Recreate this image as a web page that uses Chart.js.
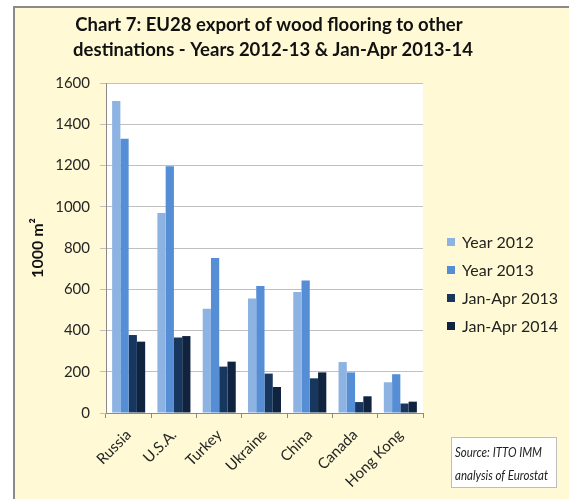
<!DOCTYPE html>
<html>
<head>
<meta charset="utf-8">
<script src="https://cdn.jsdelivr.net/npm/chart.js@4.4.1/dist/chart.umd.min.js"></script>
<style>
html,body{margin:0;padding:0;background:#fff;}
#wrap{width:569px;height:499px;position:relative;}
</style>
</head>
<body>
<div id="wrap"><canvas id="c" width="569" height="499"></canvas></div>
<script>
const titleLines = ["Chart 7: EU28 export of wood flooring to other", "destinations - Years 2012-13 & Jan-Apr 2013-14"];
const categories = ["Russia", "U.S.A.", "Turkey", "Ukraine", "China", "Canada", "Hong Kong"];
const seriesNames = ["Year 2012", "Year 2013", "Jan-Apr 2013", "Jan-Apr 2014"];
const year2012 = [1513, 970, 506, 555, 587, 247, 149];
const year2013 = [1330, 1196, 752, 616, 642, 197, 188];
const janApr2013 = [378, 366, 225, 191, 168, 53, 46];
const janApr2014 = [346, 373, 249, 126, 197, 81, 55];
const yTicks = [0, 200, 400, 600, 800, 1000, 1200, 1400, 1600];
const yTitle = "1000 m\u00B2";
const sourceLines = ["Source: ITTO IMM", "analysis of Eurostat"];

const colors = ["#8DB3E2", "#558ED5", "#17375E", "#10243F"];
const FONT = "Lato, 'Open Sans', sans-serif";

const bgPlugin = {
  id: 'bg',
  beforeDraw(chart) {
    const ctx = chart.ctx;
    ctx.save();
    ctx.fillStyle = '#ffffff';
    ctx.fillRect(0, 0, 569, 499);
    ctx.fillStyle = '#FFFAD5';
    ctx.fillRect(13, 6, 556, 493);
    ctx.strokeStyle = '#8a8a8a';
    ctx.lineWidth = 2;
    ctx.beginPath();
    ctx.moveTo(14, 499);
    ctx.lineTo(14, 7);
    ctx.lineTo(569, 7);
    ctx.stroke();
    const a = chart.chartArea;
    ctx.fillStyle = '#ffffff';
    ctx.fillRect(a.left, a.top, a.right - a.left, a.bottom - a.top);
    ctx.restore();
  },
  afterDraw(chart) {
    const ctx = chart.ctx;
    ctx.save();
    // title
    ctx.fillStyle = '#111';
    ctx.font = "bold 18.5px " + FONT;
    ctx.textAlign = 'center';
    ctx.textBaseline = 'middle';
    ctx.fillText(titleLines[0], 269, 25);
    ctx.fillText(titleLines[1], 273, 50);
    // legend
    ctx.font = "16px " + FONT;
    ctx.textAlign = 'left';
    chart.data.datasets.forEach((ds, i) => {
      const y = 242 + i * 28;
      ctx.fillStyle = ds.backgroundColor;
      ctx.fillRect(447, y - 4, 8, 8);
      ctx.fillStyle = '#222';
      ctx.fillText(ds.label, 462, y + 1);
    });
    // source box
    ctx.fillStyle = '#ffffff';
    ctx.fillRect(451, 437, 106, 50);
    ctx.strokeStyle = '#bdbdbd';
    ctx.lineWidth = 1;
    ctx.strokeRect(451.5, 437.5, 105, 50);
    ctx.fillStyle = '#222';
    ctx.font = "italic 14px " + FONT;
    ctx.fillText(sourceLines[0], 455, 452, 87);
    ctx.fillText(sourceLines[1], 455, 475, 93);
    ctx.restore();
  }
};

new Chart(document.getElementById('c'), {
  type: 'bar',
  data: {
    labels: categories,
    datasets: [
      { label: seriesNames[0], data: year2012, backgroundColor: colors[0] },
      { label: seriesNames[1], data: year2013, backgroundColor: colors[1] },
      { label: seriesNames[2], data: janApr2013, backgroundColor: colors[2] },
      { label: seriesNames[3], data: janApr2014, backgroundColor: colors[3] }
    ]
  },
  options: {
    responsive: false,
    animation: false,
    devicePixelRatio: 1,
    layout: { padding: { left: 14, right: 146, top: 83, bottom: 0 } },
    datasets: { bar: { barPercentage: 1.0, categoryPercentage: 0.73 } },
    plugins: { legend: { display: false }, title: { display: false }, tooltip: { enabled: false } },
    scales: {
      x: {
        afterFit(s) { s.height = 86; },
        grid: { display: true, drawOnChartArea: false, drawTicks: true, tickLength: 5, offset: true, color: '#8a8a8a' },
        border: { color: '#8a8a8a' },
        ticks: { minRotation: 45, maxRotation: 45, autoSkip: false, padding: 8, color: '#262626', font: { family: FONT, size: 15 } }
      },
      y: {
        min: 0, max: 1600,
        afterFit(s) { s.width = 92; },
        afterBuildTicks(s) { s.ticks = yTicks.map(v => ({ value: v })); },
        grid: { color: '#c0c0c0', tickLength: 6, drawTicks: true },
        border: { color: '#8a8a8a' },
        ticks: { padding: 10, color: '#262626', font: { family: FONT, size: 15 }, callback: (v) => String(v) },
        title: { display: true, text: yTitle, color: '#111', font: { family: FONT, size: 16, weight: 'bold' }, padding: { top: 14, bottom: 0 } }
      }
    }
  },
  plugins: [bgPlugin]
});
</script>
</body>
</html>
